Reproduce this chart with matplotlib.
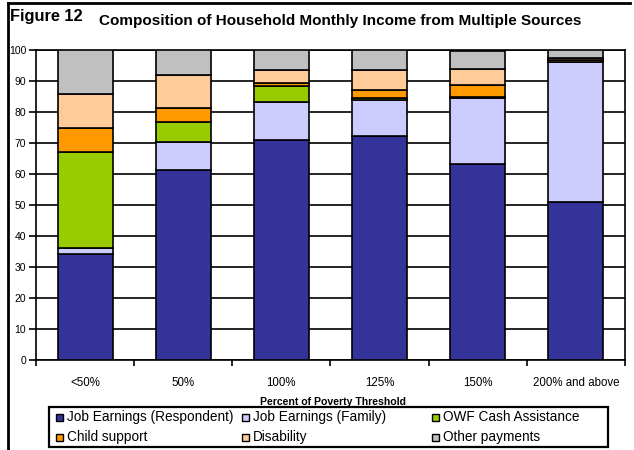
import matplotlib.pyplot as plt
import numpy as np
from matplotlib.lines import Line2D
from matplotlib.patches import Rectangle

plt.rcParams["font.family"] = ["Liberation Sans", "DejaVu Sans"]

categories = ["<50%", "50%", "100%", "125%", "150%", "200% and above"]
resp = [34.2, 61.3, 71.0, 72.3, 63.2, 51.0]
family = [1.8, 8.9, 12.3, 11.6, 21.2, 45.1]
owf = [31.0, 6.7, 5.1, 0.6, 0.6, 0.0]
child = [7.8, 4.4, 1.1, 2.6, 3.8, 0.8]
disability = [11.1, 10.5, 4.0, 6.4, 5.0, 0.4]
other = [14.1, 8.2, 6.5, 6.5, 6.0, 2.7]

series = [
    ("Job Earnings (Respondent)", resp, "#333399"),
    ("Job Earnings (Family)", family, "#ccccff"),
    ("OWF Cash Assistance", owf, "#99cc00"),
    ("Child support", child, "#ff9900"),
    ("Disability", disability, "#ffcc99"),
    ("Other payments", other, "#c0c0c0"),
]

W, H = 634, 450
fig = plt.figure(figsize=(W / 100, H / 100), dpi=100)
ax = fig.add_axes([36 / W, 1 - 360 / H, 589 / W, 310 / H])

x = np.arange(len(categories))
bottom = np.zeros(len(categories))
for name, vals, color in series:
    vals = np.array(vals)
    ax.bar(x, vals, 0.56, bottom=bottom, color=color, edgecolor="black",
           linewidth=1.2, zorder=3)
    bottom += vals

ax.set_xlim(-0.5, len(categories) - 0.5)
ax.set_ylim(0, 100)
ax.set_yticks(range(0, 101, 10))
ax.yaxis.grid(True, color="black", linewidth=1.2, zorder=0)
ax.set_axisbelow(True)
ax.tick_params(axis="y", direction="out", length=5, width=1.2, labelsize=7.5, pad=2)

ax.set_xticks(x)
ax.set_xticklabels(categories)
ax.set_xticks(np.arange(-0.5, len(categories)), minor=True)
ax.tick_params(axis="x", which="major", length=0, labelsize=8.3, pad=12)
ax.tick_params(axis="x", which="minor", direction="out", length=4, width=1.2)

for side in ["left", "right", "bottom", "top"]:
    ax.spines[side].set_linewidth(1.2)

fig.text(333 / W, 1 - 402 / H, "Percent of Poverty Threshold", fontsize=7.6,
         fontweight="bold", ha="center", va="center")

fig.text(10 / W, 1 - 17 / H, "Figure 12", fontsize=11.8, fontweight="bold",
         va="center", ha="left")
fig.text(99 / W, 1 - 21 / H,
         "Composition of Household Monthly Income from Multiple Sources",
         fontsize=11, fontweight="bold", va="center", ha="left")

# figure frame (top and left edges)
fig.add_artist(Line2D([8 / W, 8 / W], [0, 1 - 3 / H], color="black",
                      linewidth=2, transform=fig.transFigure))
fig.add_artist(Line2D([8 / W, 630 / W], [1 - 3 / H, 1 - 3 / H],
                      color="black", linewidth=2, transform=fig.transFigure))

# legend drawn as Excel lays it out: fixed, equal-ish columns in a box
fig.add_artist(Rectangle((49 / W, 1 - 447 / H), 559 / W, 40 / H,
                         transform=fig.transFigure, facecolor="white",
                         edgecolor="black", linewidth=1.6))
col_x = [56, 242, 432]
row_y = [417, 437]
for i, (name, vals, color) in enumerate(series):
    cx = col_x[i % 3]
    cy = row_y[i // 3]
    fig.add_artist(Rectangle((cx / W, 1 - (cy + 3.5) / H), 7 / W, 7 / H,
                             transform=fig.transFigure, facecolor=color,
                             edgecolor="black", linewidth=1.0))
    fig.text((cx + 11) / W, 1 - cy / H, name, fontsize=9.8, va="center",
             ha="left")

fig.savefig("out.png", dpi=100)
